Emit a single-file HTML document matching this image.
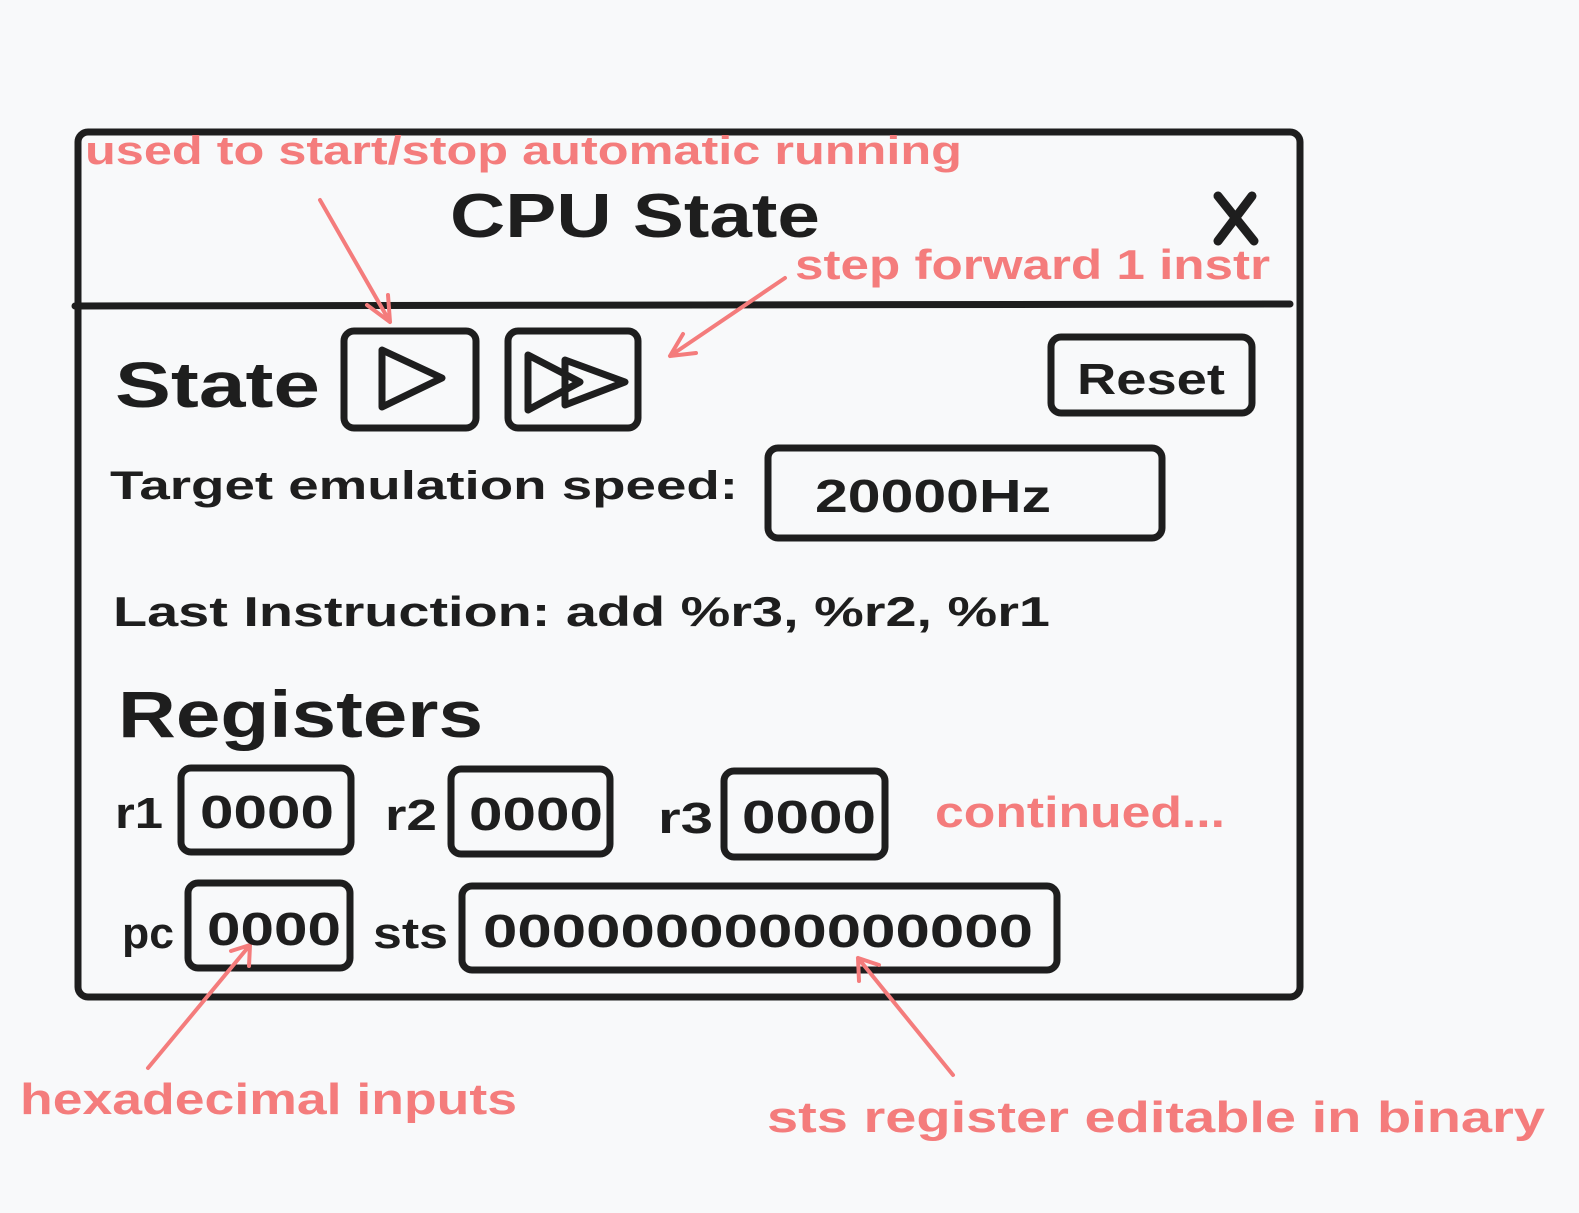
<!DOCTYPE html>
<html><head><meta charset="utf-8"><style>
html,body{margin:0;padding:0;background:#f8f9fa;}
svg{display:block}
text{font-family:"Liberation Sans",sans-serif;font-weight:bold;}
</style></head><body>
<svg width="1579" height="1213" viewBox="0 0 1579 1213" xmlns="http://www.w3.org/2000/svg">
<rect width="1579" height="1213" fill="#f8f9fa"/>
<g fill="none" stroke="#1e1e1e" stroke-width="7" stroke-linejoin="round" stroke-linecap="round">
<rect x="78" y="132" width="1222" height="865" rx="10"/>
<line x1="75" y1="306" x2="1290" y2="304"/>
<rect x="344" y="331" width="132" height="97" rx="10"/>
<path d="M382 350 L382 407 L442 378 Z"/>
<rect x="508" y="331" width="130" height="97" rx="10"/>
<path d="M528 355 L528 410 L580 382 Z"/>
<path d="M565 360 L565 405 L625 382 Z"/>
<rect x="1051" y="337" width="201" height="76" rx="10"/>
<rect x="768" y="448" width="394" height="90" rx="10"/>
<rect x="181" y="768" width="170" height="84" rx="10"/>
<rect x="451" y="769" width="159" height="85" rx="10"/>
<rect x="724" y="771" width="161" height="86" rx="10"/>
<rect x="188" y="883" width="162" height="85" rx="10"/>
<rect x="462" y="886" width="595" height="84" rx="10"/>
<path d="M1218 196 L1254 241 M1252 196 L1218 241" stroke-width="9"/>
</g>
<g fill="none" stroke="#f47c7c" stroke-width="4" stroke-linecap="round" stroke-linejoin="round">
<path d="M320 200 L390 322 M367 305 L390 322 L388 295"/>
<path d="M785 278 L670 356 M683 334 L670 356 L696 353"/>
<path d="M148 1068 L250 945 M231 951 L250 945 L249 966"/>
<path d="M953 1075 L858 958 M859 981 L858 958 L879 965"/>
</g>
<g fill="#1e1e1e">
<text x="450" y="237" font-size="62" textLength="370" lengthAdjust="spacingAndGlyphs">CPU State</text>
<text x="115" y="407" font-size="64" textLength="205" lengthAdjust="spacingAndGlyphs">State</text>
<text x="1077" y="394" font-size="44" textLength="148" lengthAdjust="spacingAndGlyphs">Reset</text>
<text x="110" y="499" font-size="40" textLength="628" lengthAdjust="spacingAndGlyphs">Target emulation speed:</text>
<text x="815" y="512" font-size="46" textLength="236" lengthAdjust="spacingAndGlyphs">20000Hz</text>
<text x="113" y="626" font-size="42" textLength="937" lengthAdjust="spacingAndGlyphs">Last Instruction: add %r3, %r2, %r1</text>
<text x="118" y="737" font-size="66" textLength="365" lengthAdjust="spacingAndGlyphs">Registers</text>
<text x="115" y="828" font-size="44" textLength="48" lengthAdjust="spacingAndGlyphs">r1</text>
<text x="200" y="828" font-size="46" textLength="134" lengthAdjust="spacingAndGlyphs">0000</text>
<text x="385" y="830" font-size="44" textLength="52" lengthAdjust="spacingAndGlyphs">r2</text>
<text x="469" y="830" font-size="46" textLength="134" lengthAdjust="spacingAndGlyphs">0000</text>
<text x="658" y="833" font-size="44" textLength="55" lengthAdjust="spacingAndGlyphs">r3</text>
<text x="742" y="833" font-size="46" textLength="134" lengthAdjust="spacingAndGlyphs">0000</text>
<text x="122" y="948" font-size="44" textLength="52" lengthAdjust="spacingAndGlyphs">pc</text>
<text x="207" y="945" font-size="46" textLength="134" lengthAdjust="spacingAndGlyphs">0000</text>
<text x="373" y="948" font-size="44" textLength="75" lengthAdjust="spacingAndGlyphs">sts</text>
<text x="483" y="947" font-size="46" textLength="550" lengthAdjust="spacingAndGlyphs">0000000000000000</text>
</g>
<g fill="#f47c7c">
<text x="85" y="164" font-size="40" textLength="877" lengthAdjust="spacingAndGlyphs">used to start/stop automatic running</text>
<text x="795" y="279" font-size="42" textLength="475" lengthAdjust="spacingAndGlyphs">step forward 1 instr</text>
<text x="935" y="827" font-size="44" textLength="290" lengthAdjust="spacingAndGlyphs">continued...</text>
<text x="20" y="1114" font-size="44" textLength="497" lengthAdjust="spacingAndGlyphs">hexadecimal inputs</text>
<text x="767" y="1132" font-size="44" textLength="778" lengthAdjust="spacingAndGlyphs">sts register editable in binary</text>
</g>
</svg>
</body></html>
